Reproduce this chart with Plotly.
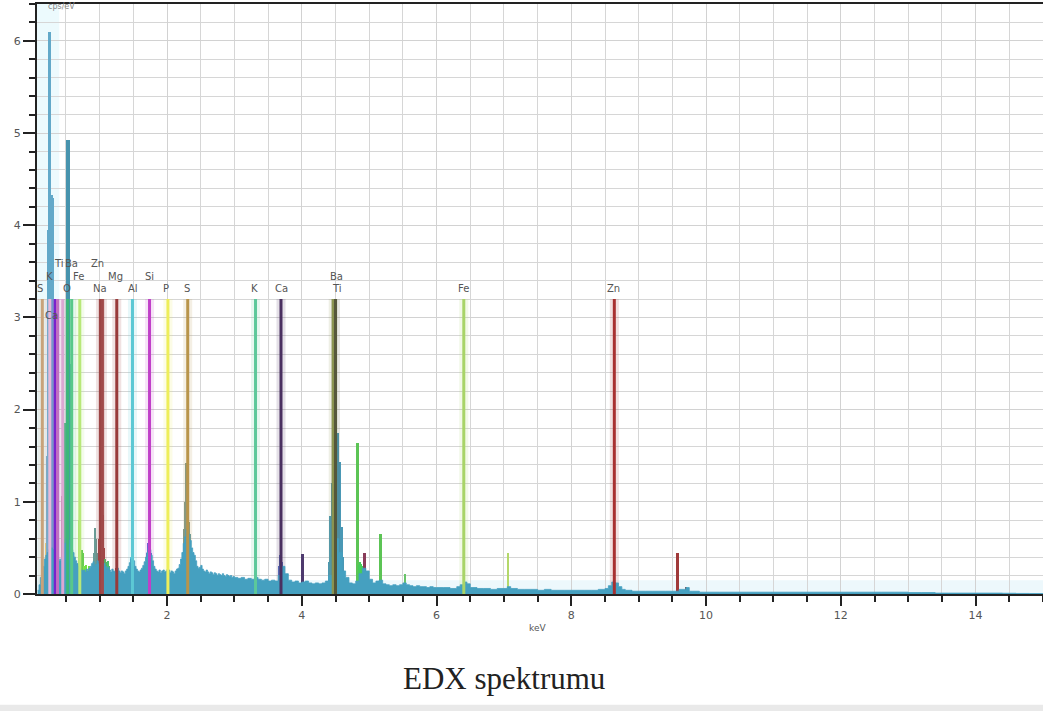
import plotly.graph_objects as go

# ---------------- data ----------------
# continuum (keV, cps/eV)
CONT_E = [0.08, 0.10, 0.12, 0.14, 0.16, 0.18, 0.20, 0.22, 0.24, 0.26, 0.28, 0.30, 0.32,
          0.34, 0.36, 0.38, 0.40, 0.42, 0.44, 0.46, 0.48, 0.50, 0.52, 0.54, 0.56, 0.58,
          0.60, 0.62, 0.64, 0.66, 0.68, 0.70, 0.72, 0.74, 0.76, 0.78, 0.80, 0.82, 0.84,
          0.86, 0.88, 0.90, 0.92, 0.94, 0.96, 0.98, 1.00, 1.02, 1.04, 1.06, 1.08, 1.10,
          1.12, 1.14, 1.16, 1.18, 1.20, 1.22, 1.24, 1.26, 1.28, 1.30, 1.32, 1.34, 1.36,
          1.38, 1.40, 1.42, 1.44, 1.46, 1.48, 1.50, 1.52, 1.54, 1.56, 1.58, 1.60, 1.62,
          1.64, 1.66, 1.68, 1.70, 1.72, 1.74, 1.76, 1.78, 1.80, 1.82, 1.84, 1.86, 1.88,
          1.90, 1.92, 1.94, 1.96, 1.98, 2.00, 2.02, 2.04, 2.06, 2.08, 2.10, 2.12, 2.14,
          2.16, 2.18, 2.20, 2.22, 2.24, 2.26, 2.28, 2.30, 2.32, 2.34, 2.36, 2.38, 2.40,
          2.42, 2.44, 2.46, 2.48, 2.50, 2.52, 2.54, 2.56, 2.58, 2.60, 2.62, 2.64, 2.66,
          2.68, 2.70, 2.72, 2.74, 2.76, 2.78, 2.80, 2.82, 2.84, 2.86, 2.88, 2.90, 2.92,
          2.94, 2.96, 2.98, 3.00, 3.05, 3.10, 3.15, 3.20, 3.25, 3.30, 3.35, 3.40, 3.45,
          3.50, 3.55, 3.60, 3.65, 3.70, 3.75, 3.80, 3.85, 3.90, 3.95, 4.00, 4.05, 4.10,
          4.15, 4.20, 4.25, 4.30, 4.35, 4.40, 4.45, 4.50, 4.55, 4.60, 4.65, 4.70, 4.75,
          4.80, 4.85, 4.90, 4.95, 5.00, 5.05, 5.10, 5.15, 5.20, 5.25, 5.30, 5.35, 5.40,
          5.45, 5.50, 5.55, 5.60, 5.65, 5.70, 5.75, 5.80, 5.85, 5.90, 5.95, 6.00, 6.10,
          6.20, 6.30, 6.35, 6.40, 6.45, 6.50, 6.60, 6.70, 6.80, 6.90, 7.00, 7.05, 7.10,
          7.20, 7.30, 7.40, 7.50, 7.60, 7.70, 7.80, 7.90, 8.00, 8.10, 8.20, 8.30, 8.40,
          8.50, 8.55, 8.60, 8.65, 8.70, 8.75, 8.80, 8.90, 9.00, 9.10, 9.20, 9.30, 9.40,
          9.50, 9.60, 9.70, 9.75, 9.80, 9.90, 10.0, 10.2, 10.4, 10.6, 10.8, 11.0, 11.2,
          11.4, 11.6, 11.8, 12.0, 12.2, 12.4, 12.6, 12.8, 13.0, 13.2, 13.4, 13.6, 13.8,
          14.0, 14.2, 14.4, 14.6, 14.8, 15.0]
CONT_Y = [0.04, 0.10, 0.18, 0.25, 0.30, 0.38, 0.42, 0.45, 0.48, 0.50, 0.50, 0.48, 0.45,
          0.42, 0.40, 0.38, 0.36, 0.38, 0.40, 0.45, 0.55, 0.60, 0.60, 0.58, 0.52, 0.48,
          0.45, 0.40, 0.36, 0.33, 0.30, 0.28, 0.26, 0.25, 0.26, 0.24, 0.27, 0.25, 0.28,
          0.30, 0.33, 0.35, 0.30, 0.32, 0.36, 0.33, 0.30, 0.28, 0.30, 0.33, 0.30, 0.27,
          0.29, 0.26, 0.24, 0.27, 0.25, 0.24, 0.26, 0.28, 0.25, 0.23, 0.25, 0.24, 0.22,
          0.25, 0.27, 0.30, 0.34, 0.38, 0.40, 0.36, 0.30, 0.27, 0.25, 0.24, 0.26, 0.28,
          0.31, 0.35, 0.40, 0.45, 0.50, 0.48, 0.42, 0.36, 0.30, 0.27, 0.25, 0.24, 0.26,
          0.23, 0.25, 0.26, 0.24, 0.25, 0.27, 0.26, 0.23, 0.25, 0.24, 0.22, 0.25, 0.27,
          0.28, 0.32, 0.38, 0.45, 0.55, 0.62, 0.70, 0.70, 0.65, 0.58, 0.50, 0.45, 0.42,
          0.36, 0.30, 0.28, 0.29, 0.31, 0.27, 0.25, 0.24, 0.26, 0.24, 0.22, 0.24, 0.23,
          0.21, 0.23, 0.22, 0.20, 0.22, 0.21, 0.20, 0.22, 0.20, 0.19, 0.21, 0.20, 0.19,
          0.20, 0.18, 0.19, 0.18, 0.17, 0.18, 0.16, 0.17, 0.16, 0.18, 0.16, 0.15, 0.16,
          0.14, 0.15, 0.14, 0.20, 0.30, 0.22, 0.15, 0.13, 0.14, 0.12, 0.13, 0.14, 0.12,
          0.11, 0.12, 0.11, 0.12, 0.14, 0.20, 0.40, 0.60, 0.45, 0.25, 0.18, 0.12, 0.11,
          0.14, 0.22, 0.28, 0.25, 0.16, 0.12, 0.14, 0.15, 0.11, 0.10, 0.09, 0.10, 0.09,
          0.10, 0.12, 0.10, 0.09, 0.08, 0.09, 0.08, 0.08, 0.07, 0.08, 0.07, 0.07, 0.07,
          0.06, 0.08, 0.10, 0.13, 0.11, 0.07, 0.06, 0.06, 0.05, 0.06, 0.06, 0.08, 0.06,
          0.05, 0.05, 0.05, 0.04, 0.05, 0.04, 0.04, 0.04, 0.04, 0.04, 0.04, 0.04, 0.05,
          0.06, 0.09, 0.13, 0.12, 0.08, 0.05, 0.04, 0.03, 0.03, 0.03, 0.03, 0.03, 0.03,
          0.03, 0.05, 0.07, 0.03, 0.03, 0.02, 0.02, 0.02, 0.02, 0.02, 0.02, 0.02, 0.02,
          0.02, 0.02, 0.02, 0.02, 0.02, 0.02, 0.02, 0.02, 0.015, 0.015, 0.01, 0.01, 0.01,
          0.01, 0.01, 0.008, 0.006, 0.005, 0.005]

# coloured peak channels (keV, cps/eV, peak group)
PEAK_E = [0.200, 0.225, 0.240, 0.255, 0.270, 0.285, 0.300, 0.315, 0.330,
          0.445,
          0.475, 0.490, 0.505, 0.520, 0.535, 0.550, 0.565, 0.580, 0.595,
          0.510, 0.525, 0.540, 0.555,
          0.700, 0.715, 0.745, 0.760,
          0.775, 0.790, 0.805, 0.820, 0.835, 0.850,
          0.910, 0.925, 0.940, 0.955,
          0.985, 1.000, 1.015, 1.030, 1.045, 1.060,
          1.075, 1.090, 1.105, 1.120, 1.135,
          1.200, 1.215, 1.230, 1.245, 1.260,
          1.470, 1.485, 1.500,
          1.710, 1.725, 1.740, 1.755,
          2.255, 2.270, 2.285, 2.300, 2.315, 2.330, 2.345, 2.360, 2.375,
          3.300, 3.315,
          3.660, 3.675, 3.690, 3.705, 3.720, 3.735,
          4.005, 4.020,
          4.400, 4.415, 4.430, 4.445, 4.460, 4.475, 4.490, 4.505, 4.520, 4.535, 4.550,
          4.565, 4.580, 4.595, 4.610, 4.625,
          4.825, 4.840,
          4.850, 4.865, 4.880, 4.895, 4.910,
          4.930, 4.945,
          5.155, 5.170,
          5.530,
          7.055,
          9.570, 9.585,
          9.700]
PEAK_Y = [0.55, 1.50, 3.95, 6.10, 6.10, 4.33, 4.33, 4.30, 1.20,
          1.06,
          1.00, 1.86, 1.86, 1.86, 1.86, 1.80, 1.50, 0.90, 0.60,
          4.92, 4.92, 4.92, 2.50,
          0.80, 0.80, 0.48, 0.45,
          0.30, 0.28, 0.32, 0.25, 0.30, 0.22,
          0.45, 0.72, 0.60, 0.45,
          0.60, 1.35, 1.00, 0.86, 0.86, 0.50,
          0.38, 0.35, 0.33, 0.36, 0.30,
          0.12, 0.15, 0.12, 0.28, 0.30,
          0.40, 0.53, 0.45,
          0.45, 0.55, 0.55, 0.45,
          0.70, 1.00, 1.42, 1.42, 1.10, 0.78, 0.65, 0.45, 0.40,
          0.25, 0.22,
          0.30, 0.42, 0.42, 0.35, 0.28, 0.22,
          0.43, 0.43,
          0.35, 0.85, 0.85, 1.20, 1.60, 1.60, 1.65, 1.70, 1.75, 1.75, 1.43,
          1.43, 0.73, 0.73, 0.40, 0.25,
          1.64, 1.64,
          0.32, 0.35, 0.33, 0.30, 0.28,
          0.45, 0.45,
          0.65, 0.65,
          0.22,
          0.45,
          0.45, 0.45,
          0.08]
PEAK_GROUP = ["Syel"] + ["C"] * 8 + ["maroon"] + ["Ogreen"] * 9 + ["O"] * 4 + \
             ["FeL"] * 2 + ["green"] * 2 + ["lime"] * 6 + ["grayteal"] * 4 + \
             ["ZnL"] * 6 + ["green2"] * 5 + ["Mg"] * 5 + ["Al"] * 3 + ["Si"] * 4 + \
             ["S"] * 9 + ["K"] * 2 + ["Ca"] * 6 + ["CaKb"] * 2 + ["Ti"] * 16 + \
             ["BaLb"] * 2 + ["greenbump"] * 5 + ["TiKb"] * 2 + ["BaLb"] * 2 + \
             ["BaLg"] + ["FeKb"] + ["ZnKb"] * 2 + ["ZnKb2"]

# element marker lines
ELEM_NAME = ["S-L", "K-L", "Ca-L", "Ca-L2", "Ti-L", "O", "Ba-M", "Fe-L", "Zn-L", "Na",
             "Mg", "Al", "Si", "P", "S", "K", "Ca", "Ba", "Ti", "Fe", "Zn"]
ELEM_E = [0.149, 0.260, 0.341, 0.375, 0.452, 0.525, 0.585, 0.705, 1.012, 1.041,
          1.254, 1.487, 1.740, 2.013, 2.307, 3.313, 3.691, 4.466, 4.500, 6.404, 8.638]
MARKER_TOP = 3.2

# element labels
LABEL_TEXT = ["S", "K", "Ca", "Ti", "Ba", "O", "Fe", "Zn", "Na", "Mg", "Al", "Si",
              "P", "S", "K", "Ca", "Ba", "Ti", "Fe", "Zn"]
LABEL_E = [0.12, 0.25, 0.28, 0.39, 0.58, 0.51, 0.68, 0.975, 1.01, 1.23, 1.50, 1.74,
           1.99, 2.29, 3.30, 3.70, 4.51, 4.52, 6.40, 8.63]
LABEL_Y = [3.31, 3.44, 3.02, 3.59, 3.59, 3.31, 3.44, 3.59, 3.31, 3.44, 3.31, 3.44,
           3.31, 3.31, 3.31, 3.31, 3.44, 3.31, 3.31, 3.31]

# ---------------- styles ----------------
PEAK_COLORS = {
    "Syel": "#e6cf78", "C": "#62a9c9", "maroon": "#a4506a", "Ogreen": "#3fb57a",
    "O": "#4793ad", "FeL": "#a8dc6c", "green": "#5cc848", "lime": "#72e044",
    "grayteal": "#6a9c96", "ZnL": "#a34848", "green2": "#4cc46a", "Mg": "#9a3a4a",
    "Al": "#58bcd4", "Si": "#5a6ad0", "S": "#80998a", "K": "#6cc4a0", "Ca": "#5a72c4",
    "CaKb": "#4e3a6e", "Ti": "#4a98b5", "BaLb": "#5cc455", "greenbump": "#45cc5a",
    "TiKb": "#8a3c5a", "BaLg": "#6ac46a", "FeKb": "#b4d86a", "ZnKb": "#a03a3a",
    "ZnKb2": "#8a4a4a",
}
ELEM_COLORS = {
    "S-L": "#c8a27a", "K-L": "#e8b8d8", "Ca-L": "#7a22cc", "Ca-L2": "#c070c0",
    "Ti-L": "#dca8d2", "O": "#3cb878", "Ba-M": "#58c88a", "Fe-L": "#b8e878",
    "Zn-L": "#9c4444", "Na": "#a04a4a", "Mg": "#983a3a", "Al": "#5cc8d4",
    "Si": "#c040c8", "P": "#eeee5a", "S": "#b8944a", "K": "#5cc89a", "Ca": "#4a3060",
    "Ba": "#8a9450", "Ti": "#55573a", "Fe": "#a8d468", "Zn": "#a83030",
}
CONT_COLOR = "#45a0c0"
BAR_W = 0.016


def rgba(hexc, a):
    h = hexc.lstrip("#")
    return "rgba(%d,%d,%d,%.2f)" % (int(h[0:2], 16), int(h[2:4], 16), int(h[4:6], 16), a)


fig = go.Figure()

# marker halos
for name, e in zip(ELEM_NAME, ELEM_E):
    fig.add_trace(go.Scatter(x=[e, e], y=[0, MARKER_TOP], mode="lines",
                             line=dict(color=rgba(ELEM_COLORS[name], 0.15), width=9),
                             hoverinfo="skip", showlegend=False))

# continuum
fig.add_trace(go.Scatter(x=CONT_E, y=CONT_Y, mode="lines", line_shape="hv",
                         line=dict(color=CONT_COLOR, width=0.8), fill="tozeroy",
                         fillcolor=CONT_COLOR, showlegend=False, hoverinfo="skip"))

# coloured peaks
fig.add_trace(go.Bar(x=PEAK_E, y=PEAK_Y, width=BAR_W,
                     marker=dict(color=[PEAK_COLORS[g] for g in PEAK_GROUP], line=dict(width=0)),
                     showlegend=False, hoverinfo="skip"))

# marker lines
for name, e in zip(ELEM_NAME, ELEM_E):
    fig.add_trace(go.Scatter(x=[e, e], y=[0, MARKER_TOP], mode="lines",
                             line=dict(color=ELEM_COLORS[name], width=3),
                             hoverinfo="skip", showlegend=False))

annotations = []
for t, e, yv in zip(LABEL_TEXT, LABEL_E, LABEL_Y):
    annotations.append(dict(x=e, y=yv, xref="x", yref="y", text=t, showarrow=False,
                            font=dict(family="DejaVu Sans", size=10, color="#555555"),
                            xanchor="center", yanchor="middle"))

annotations.append(dict(x=0.498, y=-0.0576, xref="paper", yref="paper", text="keV",
                        showarrow=False, font=dict(family="DejaVu Sans", size=9, color="#555555"),
                        xanchor="center", yanchor="middle"))
annotations.append(dict(x=0.0239, y=1.0, xref="paper", yref="paper", text="cps/eV",
                        showarrow=False, font=dict(family="DejaVu Sans", size=8, color="#888888"),
                        xanchor="center", yanchor="top", yshift=4))
annotations.append(dict(x=0.4647, y=-0.1424, xref="paper", yref="paper", text="EDX spektrumu",
                        showarrow=False, font=dict(family="Liberation Serif", size=31, color="#222222"),
                        xanchor="center", yanchor="middle"))

shapes = [
    dict(type="rect", xref="x", yref="paper", x0=0.07, x1=0.40, y0=0, y1=1,
         fillcolor="rgba(200,240,250,0.35)", line=dict(width=0), layer="below"),
    dict(type="rect", xref="x", yref="y", x0=0.07, x1=15.0, y0=0, y1=0.15,
         fillcolor="rgba(215,240,248,0.45)", line=dict(width=0), layer="below"),
    dict(type="rect", xref="paper", yref="paper", x0=-0.05, x1=1.01, y0=-0.205, y1=-0.1875,
         fillcolor="#e9e9e9", line=dict(width=0), layer="below"),
]

fig.update_layout(
    width=1043, height=711,
    margin=dict(l=37, r=0, t=4, b=117, pad=0),
    paper_bgcolor="white", plot_bgcolor="white",
    barmode="overlay", bargap=0,
    annotations=annotations, shapes=shapes,
    xaxis=dict(range=[0.07, 15.0], tick0=0, dtick=2, ticks="outside", ticklen=10,
               tickwidth=2, tickcolor="#222222", showline=True, linecolor="#222222",
               linewidth=2, mirror=True, showgrid=True, gridcolor="#d2d2d2", gridwidth=1,
               zeroline=False, tickfont=dict(family="DejaVu Sans", size=11, color="#555555"),
               minor=dict(tick0=0, dtick=0.5, ticks="outside", ticklen=6, tickwidth=2,
                          tickcolor="#222222", showgrid=True, gridcolor="#d6d6d6", gridwidth=1)),
    yaxis=dict(range=[0, 6.4], tick0=0, dtick=1, ticks="outside", ticklen=12,
               tickwidth=2, tickcolor="#222222", showline=True, linecolor="#222222",
               linewidth=2, showgrid=True, gridcolor="#d2d2d2", gridwidth=1,
               zeroline=False, tickfont=dict(family="DejaVu Sans", size=11, color="#555555"),
               minor=dict(tick0=0, dtick=0.2, ticks="outside", ticklen=6, tickwidth=2,
                          tickcolor="#222222", showgrid=True, gridcolor="#d6d6d6", gridwidth=1)),
)

fig.write_html("out.html")
